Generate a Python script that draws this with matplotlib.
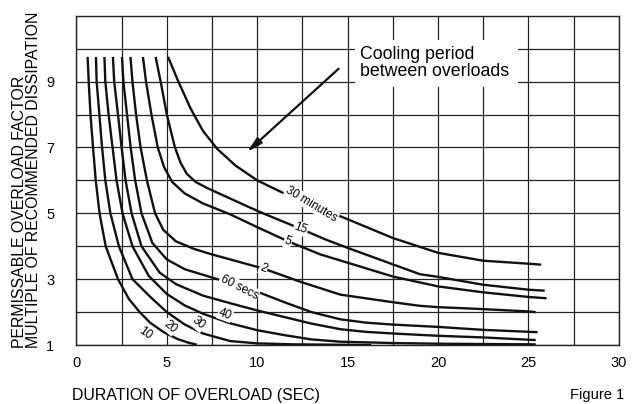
import matplotlib.pyplot as plt
from matplotlib.patches import Rectangle

plt.rcParams['font.family'] = ['Liberation Sans', 'DejaVu Sans']

# curves: (duration s, overload factor), inner to outer
c10 = [(0.62, 9.75), (0.68, 9), (0.78, 8), (0.92, 7), (1.07, 6), (1.28, 5), (1.62, 4),
       (2.3, 3), (2.9, 2.4), (3.5, 2.0), (4.07, 1.68), (4.8, 1.4), (5.6, 1.18),
       (6.2, 1.07), (6.66, 1.01)]
c20 = [(1.08, 9.75), (1.12, 9), (1.27, 8), (1.42, 7), (1.6, 6), (1.88, 5), (2.35, 4),
       (3.1, 3), (4.07, 2.47), (5.0, 2.0), (6.0, 1.62), (7.0, 1.35), (8.5, 1.12),
       (10, 1.05), (12, 1.02), (16.3, 1.0)]
c30 = [(1.55, 9.75), (1.6, 9), (1.78, 8), (2.0, 7), (2.22, 6), (2.55, 5), (3.1, 4),
       (4.0, 3.1), (5.0, 2.55), (6.0, 2.2), (7.0, 1.95), (8.5, 1.66), (10, 1.45),
       (11.5, 1.3), (13, 1.17), (14.6, 1.1), (17.5, 1.06), (20, 1.04), (22.5, 1.03),
       (25.4, 1.02)]
c40 = [(2.02, 9.75), (2.09, 9), (2.3, 8), (2.5, 7), (2.72, 6), (3.05, 5), (3.6, 4),
       (4.6, 3.2), (5.5, 2.85), (7, 2.5), (8.5, 2.27), (10, 2.05), (11.5, 1.85),
       (13, 1.65), (14.6, 1.48), (16, 1.4), (17.5, 1.35), (20, 1.28), (22.5, 1.23),
       (25.4, 1.15)]
c60s = [(2.52, 9.75), (2.6, 9), (2.8, 8), (3.0, 7), (3.25, 6), (3.6, 5), (4.2, 4.1),
        (5.0, 3.6), (6.0, 3.3), (7.2, 3.1), (8.5, 2.88), (10, 2.62), (11.5, 2.3),
        (13, 2.0), (14.6, 1.78), (16, 1.68), (17.5, 1.62), (20, 1.55), (22.5, 1.46),
        (25.5, 1.39)]
c2m = [(2.99, 9.75), (3.1, 9), (3.3, 8), (3.55, 7), (3.9, 6), (4.35, 5), (4.8, 4.5),
       (5.5, 4.15), (6.5, 3.92), (7.5, 3.75), (8.5, 3.6), (10.35, 3.32), (12.5, 2.9),
       (14.6, 2.53), (17.5, 2.3), (19, 2.19), (20, 2.15), (22.5, 2.09), (25, 2.02),
       (25.4, 2.0)]
c5m = [(3.68, 9.75), (3.85, 9), (4.15, 8), (4.5, 7), (4.85, 6.4), (5.3, 5.95),
       (6.0, 5.6), (7.0, 5.3), (8.5, 4.97), (10, 4.58), (11.7, 4.15), (13.5, 3.75),
       (15, 3.5), (17.5, 3.08), (20, 2.78), (22.5, 2.6), (25, 2.46), (26, 2.42)]
c15m = [(4.38, 9.75), (4.66, 9), (5.0, 8), (5.45, 7), (5.75, 6.55), (6.1, 6.2),
        (6.6, 5.95), (7.3, 5.75), (8.5, 5.45), (9.5, 5.2), (10.45, 4.97), (12.4, 4.53),
        (13.8, 4.2), (15, 3.95), (17.5, 3.45), (19, 3.15), (20, 3.07), (22.5, 2.83),
        (25, 2.68), (25.9, 2.65)]
c30m = [(5.07, 9.75), (5.6, 9.05), (6.3, 8.2), (7.0, 7.5), (7.8, 6.95), (8.8, 6.45),
        (10, 6.0), (11.5, 5.6), (13.0, 5.27), (15, 4.82), (17.5, 4.25), (20, 3.8),
        (22.5, 3.56), (25, 3.47), (25.7, 3.44)]

curves = [c10, c20, c30, c40, c60s, c2m, c5m, c15m, c30m]
names = ['10', '20', '30', '40', '60 secs', '2', '5', '15', '30 minutes']
# where each name sits next to its curve, and its slant
label_at = [(3.8, 1.36, -35), (5.18, 1.56, -40), (6.75, 1.66, -40), (8.23, 1.94, -20),
            (9.0, 2.76, -27), (10.35, 3.34, -22), (11.7, 4.15, -20), (12.4, 4.53, -20),
            (13.0, 5.27, -31)]

x_ticks = [0, 5, 10, 15, 20, 25, 30]
y_ticks = [1, 3, 5, 7, 9]

fig = plt.figure(figsize=(6.42, 4.04), dpi=100)
ax = fig.add_axes([0.119, 0.146, 0.845, 0.815])

for pts in curves:
    xs = [p[0] for p in pts]
    ys = [p[1] for p in pts]
    ax.plot(xs, ys, color='#111111', lw=1.7, solid_capstyle='butt',
            solid_joinstyle='round', zorder=3)

for name, (lx, ly, rot) in zip(names, label_at):
    ax.text(lx, ly, name, fontsize=8.5, rotation=rot, ha='center', va='center',
            rotation_mode='anchor', zorder=4,
            bbox=dict(facecolor='white', edgecolor='none', pad=0.6))

ax.set_xlim(0, 30)
ax.set_ylim(1, 11)
ax.set_xticks(x_ticks)
ax.set_xticks([2.5, 7.5, 12.5, 17.5, 22.5, 27.5], minor=True)
ax.set_yticks(y_ticks)
ax.set_yticks([2, 4, 6, 8, 10], minor=True)
ax.grid(True, which='both', color='#222222', lw=0.9, zorder=1)
ax.set_axisbelow(True)
ax.tick_params(which='both', length=0, labelsize=10.5)
ax.tick_params(axis='y', pad=16)
ax.tick_params(axis='x', pad=8)
for s in ax.spines.values():
    s.set_color('#222222')
    s.set_linewidth(1.0)

# blank patch behind the callout text
ax.add_patch(Rectangle((15.4, 8.84), 9.0, 1.43, facecolor='white', edgecolor='none', zorder=2))
ax.text(15.68, 9.57, 'Cooling period\nbetween overloads', fontsize=12.8, ha='left',
        va='center', linespacing=0.95, zorder=4)
ax.annotate('', xy=(9.43, 6.86), xytext=(14.5, 9.39),
            arrowprops=dict(arrowstyle='-|>,head_length=0.9,head_width=0.22',
                            color='#111111', lw=1.6, shrinkA=0, shrinkB=0), zorder=4)

fig.text(0.041, 0.139, 'PERMISSABLE OVERLOAD FACTOR\nMULTIPLE OF RECOMMENDED DISSIPATION',
         rotation=90, fontsize=11.4, linespacing=0.88, multialignment='left',
         ha='center', va='bottom')
fig.text(0.498, 0.022, 'DURATION OF OVERLOAD (SEC)', fontsize=11.4, ha='right', va='center')
fig.text(0.972, 0.022, 'Figure 1', fontsize=10.5, ha='right', va='center')

fig.savefig('out.png', dpi=100)
